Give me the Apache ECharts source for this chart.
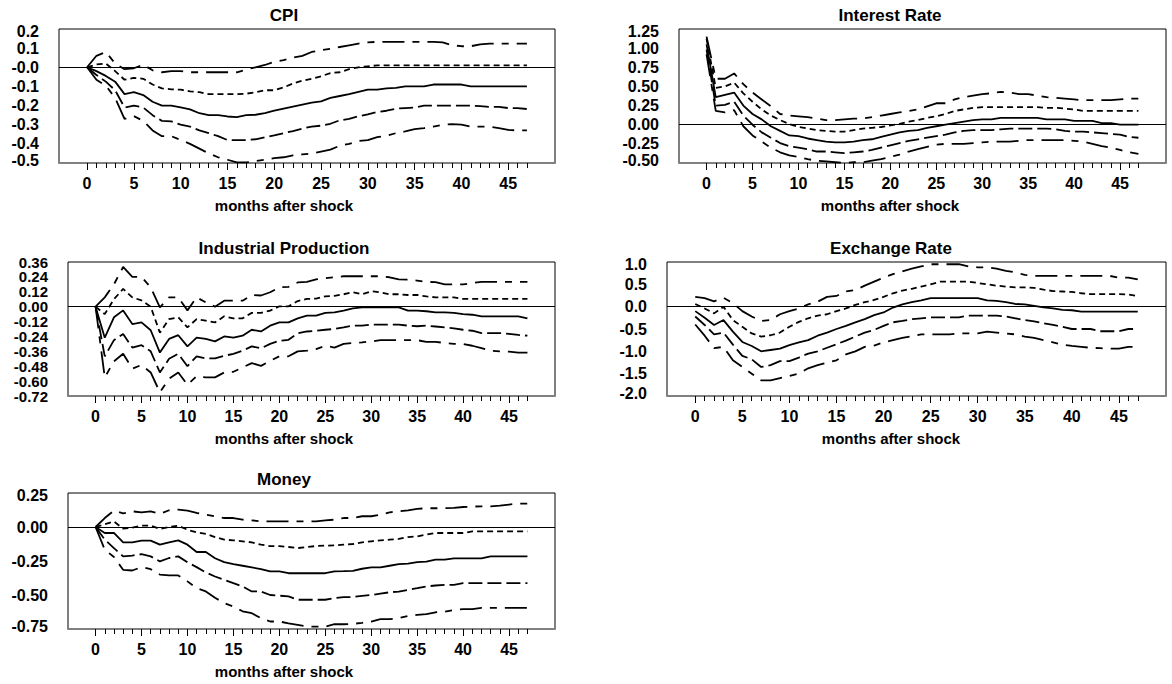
<!DOCTYPE html>
<html>
<head>
<meta charset="utf-8">
<script src="https://cdn.jsdelivr.net/npm/echarts@6/dist/echarts.min.js"></script>
<style>
  html, body { margin: 0; padding: 0; background: #fff; }
  #chart { width: 1172px; height: 684px; }
</style>
</head>
<body>
<div id="chart"></div>
<script>
  // x axis runs from -3 to 50, ticks only on 0..47
  const axisMonths = [-3, -2, -1, 0, 1, 2, 3, 4, 5, 6, 7, 8, 9, 10, 11, 12, 13, 14, 15, 16, 17, 18, 19, 20,
    21, 22, 23, 24, 25, 26, 27, 28, 29, 30, 31, 32, 33, 34, 35, 36, 37, 38, 39, 40, 41, 42, 43, 44, 45, 46, 47, 48, 49, 50];
  const months = [0, 1, 2, 3, 4, 5, 6, 7, 8, 9, 10, 11, 12, 13, 14, 15, 16, 17, 18, 19, 20, 21, 22, 23,
    24, 25, 26, 27, 28, 29, 30, 31, 32, 33, 34, 35, 36, 37, 38, 39, 40, 41, 42, 43, 44, 45, 46, 47];

  // CPI
  const cpiUp2 = [0, 0.06, 0.08, 0.02, -0.01, -0.005, 0.014, -0.016, -0.026, -0.02, -0.02, -0.026, -0.026, -0.026, -0.026, -0.026,
    -0.026, -0.012, 0, 0.012, 0.028, 0.037, 0.05, 0.06, 0.08, 0.089, 0.096, 0.106, 0.115, 0.124, 0.13, 0.133,
    0.133, 0.133, 0.133, 0.133, 0.133, 0.133, 0.13, 0.115, 0.11, 0.11, 0.12, 0.124, 0.124, 0.124, 0.124, 0.124];
  const cpiUp1 = [0, 0.015, 0.02, -0.02, -0.065, -0.055, -0.06, -0.09, -0.11, -0.115, -0.117, -0.126, -0.13, -0.14, -0.14, -0.14,
    -0.14, -0.138, -0.13, -0.12, -0.12, -0.105, -0.085, -0.07, -0.06, -0.047, -0.03, -0.026, -0.01, 0, 0.005, 0.01,
    0.01, 0.01, 0.01, 0.01, 0.01, 0.01, 0.01, 0.01, 0.01, 0.01, 0.01, 0.01, 0.01, 0.01, 0.01, 0.01];
  const cpiMid = [0, -0.02, -0.045, -0.075, -0.14, -0.13, -0.145, -0.18, -0.2, -0.2, -0.21, -0.22, -0.24, -0.25, -0.25, -0.257,
    -0.26, -0.25, -0.248, -0.24, -0.227, -0.216, -0.205, -0.195, -0.185, -0.178, -0.16, -0.15, -0.14, -0.128, -0.117, -0.117,
    -0.11, -0.108, -0.1, -0.1, -0.1, -0.09, -0.09, -0.09, -0.09, -0.1, -0.1, -0.1, -0.1, -0.1, -0.1, -0.1];
  const cpiLo1 = [0, -0.04, -0.075, -0.12, -0.21, -0.2, -0.21, -0.25, -0.28, -0.283, -0.3, -0.31, -0.33, -0.344, -0.36, -0.38,
    -0.38, -0.38, -0.376, -0.366, -0.356, -0.344, -0.333, -0.32, -0.31, -0.305, -0.295, -0.277, -0.27, -0.256, -0.246, -0.234,
    -0.227, -0.216, -0.213, -0.21, -0.2, -0.2, -0.2, -0.2, -0.2, -0.2, -0.203, -0.207, -0.207, -0.213, -0.213, -0.218];
  const cpiLo2 = [0, -0.065, -0.096, -0.16, -0.27, -0.255, -0.28, -0.33, -0.36, -0.36, -0.38, -0.4, -0.425, -0.45, -0.47, -0.483,
    -0.497, -0.497, -0.49, -0.483, -0.475, -0.47, -0.46, -0.455, -0.45, -0.44, -0.43, -0.41, -0.4, -0.385, -0.38, -0.365,
    -0.358, -0.344, -0.335, -0.323, -0.318, -0.31, -0.3, -0.297, -0.3, -0.31, -0.31, -0.31, -0.318, -0.327, -0.33, -0.33];

  // Interest Rate
  const rateUp2 = [1.15, 0.6, 0.6, 0.67, 0.53, 0.42, 0.33, 0.24, 0.14, 0.12, 0.11, 0.1, 0.08, 0.06, 0.06, 0.07,
    0.08, 0.08, 0.1, 0.12, 0.14, 0.16, 0.18, 0.2, 0.24, 0.28, 0.28, 0.33, 0.36, 0.38, 0.4, 0.41,
    0.43, 0.42, 0.4, 0.4, 0.38, 0.36, 0.35, 0.34, 0.33, 0.32, 0.32, 0.32, 0.32, 0.33, 0.34, 0.34];
  const rateUp1 = [1.12, 0.48, 0.5, 0.55, 0.41, 0.3, 0.2, 0.12, 0.06, 0.01, -0.03, -0.05, -0.07, -0.08, -0.09, -0.09,
    -0.07, -0.05, -0.04, -0.03, -0.01, 0.01, 0.04, 0.06, 0.09, 0.11, 0.14, 0.18, 0.2, 0.22, 0.23, 0.23,
    0.23, 0.23, 0.23, 0.23, 0.23, 0.22, 0.22, 0.21, 0.2, 0.18, 0.18, 0.18, 0.18, 0.18, 0.18, 0.18];
  const rateMid = [1.05, 0.36, 0.39, 0.42, 0.25, 0.14, 0.07, -0.02, -0.08, -0.14, -0.15, -0.18, -0.2, -0.22, -0.23, -0.23,
    -0.22, -0.2, -0.19, -0.16, -0.13, -0.1, -0.08, -0.07, -0.04, -0.02, 0, 0.02, 0.04, 0.06, 0.07, 0.07,
    0.09, 0.09, 0.09, 0.09, 0.09, 0.07, 0.07, 0.07, 0.05, 0.05, 0.05, 0.02, 0.02, 0, 0, 0];
  const rateLo1 = [0.98, 0.25, 0.26, 0.3, 0.12, 0, -0.1, -0.17, -0.24, -0.28, -0.3, -0.32, -0.35, -0.35, -0.36, -0.37,
    -0.36, -0.35, -0.33, -0.3, -0.27, -0.24, -0.21, -0.19, -0.17, -0.15, -0.13, -0.1, -0.08, -0.07, -0.07, -0.07,
    -0.06, -0.05, -0.05, -0.05, -0.05, -0.05, -0.06, -0.08, -0.09, -0.09, -0.1, -0.11, -0.12, -0.13, -0.16, -0.17];
  const rateLo2 = [0.92, 0.18, 0.16, 0.19, -0.02, -0.14, -0.22, -0.3, -0.36, -0.4, -0.42, -0.45, -0.47, -0.48, -0.49, -0.5,
    -0.49, -0.49, -0.47, -0.45, -0.42, -0.39, -0.35, -0.32, -0.29, -0.26, -0.25, -0.25, -0.25, -0.24, -0.23, -0.22,
    -0.22, -0.22, -0.21, -0.2, -0.2, -0.2, -0.2, -0.2, -0.21, -0.22, -0.25, -0.28, -0.3, -0.33, -0.36, -0.38];

  // Industrial Production
  const prodUp2 = [0, 0.075, 0.18, 0.32, 0.24, 0.24, 0.156, -0.005, 0.075, 0.075, -0.03, 0.075, 0.035, 0, 0.048, 0.048,
    0.048, 0.094, 0.09, 0.116, 0.156, 0.16, 0.195, 0.2, 0.22, 0.23, 0.237, 0.245, 0.245, 0.245, 0.245, 0.245,
    0.237, 0.22, 0.218, 0.21, 0.2, 0.197, 0.18, 0.18, 0.18, 0.19, 0.2, 0.2, 0.2, 0.2, 0.2, 0.2];
  const prodUp1 = [0, -0.06, 0.06, 0.143, 0.075, 0.05, 0, -0.21, -0.1, -0.086, -0.167, -0.1, -0.113, -0.127, -0.078, -0.094,
    -0.094, -0.05, -0.05, -0.032, 0.003, 0.003, 0.045, 0.062, 0.065, 0.083, 0.087, 0.1, 0.116, 0.1, 0.124, 0.116,
    0.1, 0.1, 0.094, 0.094, 0.083, 0.075, 0.075, 0.075, 0.062, 0.062, 0.062, 0.062, 0.062, 0.062, 0.062, 0.062];
  const prodMid = [0, -0.25, -0.086, -0.03, -0.14, -0.127, -0.19, -0.37, -0.26, -0.23, -0.32, -0.25, -0.26, -0.28, -0.24, -0.25,
    -0.234, -0.186, -0.2, -0.153, -0.127, -0.127, -0.094, -0.073, -0.073, -0.05, -0.046, -0.032, -0.013, -0.005, -0.005, -0.005,
    -0.005, -0.005, -0.032, -0.032, -0.037, -0.046, -0.046, -0.05, -0.06, -0.065, -0.078, -0.078, -0.078, -0.078, -0.078, -0.094];
  const prodLo1 = [0, -0.4, -0.27, -0.22, -0.33, -0.31, -0.36, -0.53, -0.42, -0.38, -0.48, -0.4, -0.417, -0.417, -0.396, -0.38,
    -0.355, -0.32, -0.336, -0.3, -0.275, -0.267, -0.215, -0.2, -0.194, -0.186, -0.18, -0.167, -0.153, -0.153, -0.145, -0.145,
    -0.145, -0.145, -0.153, -0.158, -0.153, -0.16, -0.167, -0.175, -0.186, -0.194, -0.213, -0.213, -0.213, -0.22, -0.228, -0.234];
  const prodLo2 = [0, -0.57, -0.44, -0.38, -0.5, -0.47, -0.53, -0.69, -0.58, -0.53, -0.63, -0.56, -0.57, -0.57, -0.53, -0.525,
    -0.49, -0.455, -0.477, -0.436, -0.4, -0.4, -0.36, -0.355, -0.342, -0.315, -0.33, -0.3, -0.293, -0.288, -0.28, -0.27,
    -0.27, -0.27, -0.27, -0.27, -0.283, -0.283, -0.293, -0.3, -0.3, -0.315, -0.334, -0.355, -0.36, -0.363, -0.37, -0.37];

  // Exchange Rate
  const fxUp2 = [0.22, 0.19, 0.12, 0.2, 0.08, -0.1, -0.22, -0.32, -0.3, -0.17, -0.1, -0.04, 0.05, 0.11, 0.22, 0.24,
    0.34, 0.37, 0.47, 0.56, 0.65, 0.73, 0.79, 0.85, 0.9, 0.95, 0.95, 0.95, 0.95, 0.9, 0.88, 0.88,
    0.85, 0.8, 0.77, 0.71, 0.69, 0.69, 0.69, 0.69, 0.69, 0.69, 0.69, 0.69, 0.69, 0.65, 0.65, 0.61];
  const fxUp1 = [0.06, -0.04, -0.15, 0, -0.3, -0.45, -0.6, -0.67, -0.64, -0.58, -0.45, -0.34, -0.26, -0.2, -0.17, -0.1,
    -0.04, 0.04, 0.1, 0.15, 0.22, 0.3, 0.36, 0.4, 0.45, 0.5, 0.56, 0.56, 0.56, 0.56, 0.53, 0.5,
    0.47, 0.45, 0.43, 0.43, 0.42, 0.38, 0.35, 0.34, 0.33, 0.3, 0.28, 0.28, 0.28, 0.28, 0.27, 0.24];
  const fxMid = [-0.1, -0.25, -0.41, -0.3, -0.56, -0.79, -0.88, -1, -0.97, -0.94, -0.86, -0.8, -0.75, -0.65, -0.58, -0.5,
    -0.43, -0.35, -0.28, -0.19, -0.13, -0.02, 0.05, 0.1, 0.14, 0.19, 0.19, 0.19, 0.19, 0.19, 0.19, 0.14,
    0.13, 0.1, 0.06, 0.05, 0.02, -0.015, -0.04, -0.07, -0.08, -0.11, -0.11, -0.11, -0.11, -0.11, -0.11, -0.11];
  const fxLo1 = [-0.22, -0.41, -0.62, -0.58, -0.85, -1.1, -1.18, -1.35, -1.31, -1.22, -1.22, -1.14, -1.05, -1, -0.92, -0.84,
    -0.76, -0.67, -0.58, -0.52, -0.43, -0.35, -0.32, -0.28, -0.26, -0.24, -0.24, -0.24, -0.24, -0.2, -0.2, -0.2,
    -0.2, -0.22, -0.26, -0.3, -0.33, -0.37, -0.41, -0.45, -0.5, -0.5, -0.5, -0.55, -0.55, -0.55, -0.5, -0.5];
  const fxLo2 = [-0.4, -0.65, -0.93, -0.9, -1.2, -1.35, -1.5, -1.65, -1.65, -1.6, -1.55, -1.5, -1.38, -1.31, -1.25, -1.2,
    -1.07, -1, -0.9, -0.87, -0.8, -0.75, -0.7, -0.66, -0.62, -0.62, -0.62, -0.62, -0.6, -0.6, -0.6, -0.56,
    -0.58, -0.6, -0.62, -0.67, -0.7, -0.75, -0.8, -0.85, -0.88, -0.9, -0.92, -0.93, -0.94, -0.94, -0.9, -0.9];

  // Money
  const moneyUp2 = [0, 0.066, 0.12, 0.1, 0.115, 0.108, 0.115, 0.096, 0.123, 0.128, 0.12, 0.103, 0.09, 0.079, 0.066, 0.066,
    0.054, 0.049, 0.042, 0.042, 0.042, 0.042, 0.042, 0.042, 0.042, 0.049, 0.054, 0.066, 0.066, 0.079, 0.079, 0.09,
    0.108, 0.115, 0.123, 0.133, 0.138, 0.138, 0.138, 0.14, 0.147, 0.15, 0.152, 0.152, 0.157, 0.165, 0.172, 0.172];
  const moneyUp1 = [0, 0.02, 0.04, -0.012, -0.005, 0.01, 0.01, -0.015, 0, 0.01, -0.02, -0.04, -0.05, -0.074, -0.093, -0.098,
    -0.105, -0.113, -0.13, -0.14, -0.14, -0.147, -0.155, -0.147, -0.14, -0.137, -0.135, -0.13, -0.125, -0.113, -0.105, -0.098,
    -0.093, -0.088, -0.074, -0.069, -0.056, -0.044, -0.044, -0.044, -0.044, -0.032, -0.032, -0.032, -0.032, -0.032, -0.032, -0.032];
  const moneyMid = [0, -0.044, -0.044, -0.113, -0.113, -0.1, -0.1, -0.13, -0.113, -0.098, -0.13, -0.184, -0.184, -0.23, -0.258, -0.273,
    -0.285, -0.297, -0.31, -0.327, -0.327, -0.34, -0.34, -0.34, -0.34, -0.34, -0.327, -0.325, -0.322, -0.307, -0.297, -0.297,
    -0.285, -0.273, -0.27, -0.258, -0.255, -0.24, -0.24, -0.23, -0.23, -0.23, -0.23, -0.216, -0.216, -0.216, -0.216, -0.216];
  const moneyLo1 = [0, -0.093, -0.155, -0.216, -0.21, -0.2, -0.216, -0.253, -0.228, -0.216, -0.26, -0.295, -0.334, -0.364, -0.388, -0.413,
    -0.437, -0.474, -0.474, -0.5, -0.505, -0.51, -0.535, -0.535, -0.535, -0.535, -0.523, -0.515, -0.515, -0.506, -0.5, -0.49,
    -0.48, -0.475, -0.462, -0.45, -0.437, -0.43, -0.425, -0.425, -0.413, -0.413, -0.413, -0.413, -0.413, -0.413, -0.413, -0.413];
  const moneyLo2 = [0, -0.167, -0.22, -0.315, -0.32, -0.295, -0.31, -0.35, -0.356, -0.356, -0.4, -0.45, -0.474, -0.52, -0.56, -0.585,
    -0.62, -0.634, -0.67, -0.695, -0.695, -0.708, -0.72, -0.732, -0.732, -0.732, -0.715, -0.715, -0.712, -0.705, -0.695, -0.678,
    -0.678, -0.67, -0.654, -0.646, -0.64, -0.627, -0.622, -0.61, -0.604, -0.604, -0.595, -0.595, -0.595, -0.595, -0.595, -0.595];

  const font = '"Liberation Sans", Arial, sans-serif';
  // outer band, inner upper, centre, inner lower, outer band
  const lineTypes = [[22, 8, 7, 8], [6, 4], 'solid', [14, 5], [22, 8, 7, 8]];

  const panels = [
    { title: 'CPI', cx: 284, grid: { left: 59, top: 29, width: 496, height: 134 }, nudge: true, yFont: 16,
      min: -0.5, max: 0.2, step: 0.1, dec: 1, zero: '-0.0', lines: [cpiUp2, cpiUp1, cpiMid, cpiLo1, cpiLo2] },
    { title: 'Interest Rate', cx: 890, grid: { left: 679, top: 29, width: 487, height: 134 }, nudge: true, yFont: 16,
      min: -0.5, max: 1.25, step: 0.25, dec: 2, zero: '0.00', lines: [rateUp2, rateUp1, rateMid, rateLo1, rateLo2] },
    { title: 'Industrial Production', cx: 284, grid: { left: 68, top: 262, width: 487, height: 134 }, nudge: false, yFont: 15,
      min: -0.72, max: 0.36, step: 0.12, dec: 2, zero: '0.00', lines: [prodUp2, prodUp1, prodMid, prodLo1, prodLo2] },
    { title: 'Exchange Rate', cx: 891, grid: { left: 667, top: 262, width: 499, height: 134 }, nudge: true, yFont: 16,
      min: -2, max: 1, step: 0.5, dec: 1, zero: '0.0', lines: [fxUp2, fxUp1, fxMid, fxLo1, fxLo2] },
    { title: 'Money', cx: 284, grid: { left: 68, top: 493, width: 487, height: 136 }, nudge: true, yFont: 16,
      min: -0.75, max: 0.25, step: 0.25, dec: 2, zero: '0.00', lines: [moneyUp2, moneyUp1, moneyMid, moneyLo1, moneyLo2] }
  ];

  const isMajor = (idx, val) => +val >= 0 && +val <= 45 && +val % 5 === 0;
  const isMinor = (idx, val) => +val >= 0 && +val <= 47 && +val % 5 !== 0;
  const labelStyle = { fontSize: 16, fontWeight: 'bold', color: '#000', fontFamily: font };

  const grids = [], xAxes = [], yAxes = [], series = [], texts = [];

  // y labels are split over two overlaid axes (even / odd ticks) so that
  // ECharts does not drop any of the tightly packed labels
  function yAxisFor(p, i, parity) {
    const n = Math.round((p.max - p.min) / p.step);
    const st = Object.assign({}, labelStyle, { fontSize: p.yFont, lineHeight: p.yFont - 1 });
    return {
      type: 'value', gridIndex: i, position: 'left', min: p.min, max: p.max, interval: p.step,
      axisLine: { show: false }, axisTick: { show: false }, splitLine: { show: false },
      axisLabel: Object.assign({
        margin: 20, hideOverlap: false,
        showMinLabel: parity === 0,
        showMaxLabel: n % 2 === parity,
        formatter: v => {
          const idx = Math.round((v - p.min) / p.step);
          if (idx % 2 !== parity) return '';
          const s = Math.abs(v) < 1e-9 ? p.zero : v.toFixed(p.dec);
          if (p.nudge && idx === n) return '{hi|' + s + '}';
          if (p.nudge && idx === 0) return '{lo|' + s + '}';
          return s;
        },
        rich: {
          hi: Object.assign({ padding: [4, 0, 0, 0] }, st),
          lo: Object.assign({ padding: [0, 0, 6, 0] }, st)
        }
      }, st)
    };
  }

  panels.forEach((p, i) => {
    grids.push(Object.assign({ show: true, borderColor: '#000', borderWidth: 1, containLabel: false }, p.grid));

    xAxes.push({
      type: 'category', gridIndex: i, data: axisMonths.map(String), boundaryGap: false, position: 'bottom',
      axisLine: { show: true, onZero: false, lineStyle: { color: '#808080', width: 2 } },
      axisTick: { show: true, length: 7, interval: isMajor, lineStyle: { color: '#000', width: 1 } },
      axisLabel: Object.assign({ show: true, interval: isMajor, margin: 12 }, labelStyle),
      splitLine: { show: false }
    });
    xAxes.push({
      type: 'category', gridIndex: i, data: axisMonths.map(String), boundaryGap: false, position: 'bottom',
      axisLine: { show: false, onZero: false },
      axisTick: { show: true, length: 5, interval: isMinor, lineStyle: { color: '#000', width: 1 } },
      axisLabel: { show: false },
      splitLine: { show: false }
    });

    yAxes.push(yAxisFor(p, i, 0));
    yAxes.push(yAxisFor(p, i, 1));

    p.lines.forEach((vals, k) => {
      const s = {
        type: 'line', xAxisIndex: 2 * i, yAxisIndex: 2 * i,
        data: months.map((m, j) => [String(m), vals[j]]),
        symbol: 'none', showSymbol: false, silent: true, animation: false,
        lineStyle: { color: '#000', width: 1.8, type: lineTypes[k] }
      };
      if (k === 2) {
        s.markLine = {
          silent: true, symbol: 'none', animation: false, label: { show: false },
          lineStyle: { color: '#000', width: 1, type: 'solid' },
          data: [{ yAxis: 0 }]
        };
      }
      series.push(s);
    });

    const top = p.grid.top, bottom = p.grid.top + p.grid.height;
    texts.push({
      type: 'text', x: p.cx, y: top - 14,
      style: { text: p.title, align: 'center', verticalAlign: 'middle', textAlign: 'center', textVerticalAlign: 'middle',
        fontSize: 17, fontWeight: 'bold', fontFamily: font, fill: '#000' }
    });
    texts.push({
      type: 'text', x: p.cx, y: bottom + 42,
      style: { text: 'months after shock', align: 'center', verticalAlign: 'middle', textAlign: 'center', textVerticalAlign: 'middle',
        fontSize: 15, fontWeight: 'bold', fontFamily: font, fill: '#000' }
    });
  });

  const chart = echarts.init(document.getElementById('chart'), null, { renderer: 'svg' });
  chart.setOption({
    animation: false,
    backgroundColor: '#fff',
    grid: grids,
    xAxis: xAxes,
    yAxis: yAxes,
    series: series,
    graphic: texts
  });
</script>
</body>
</html>
